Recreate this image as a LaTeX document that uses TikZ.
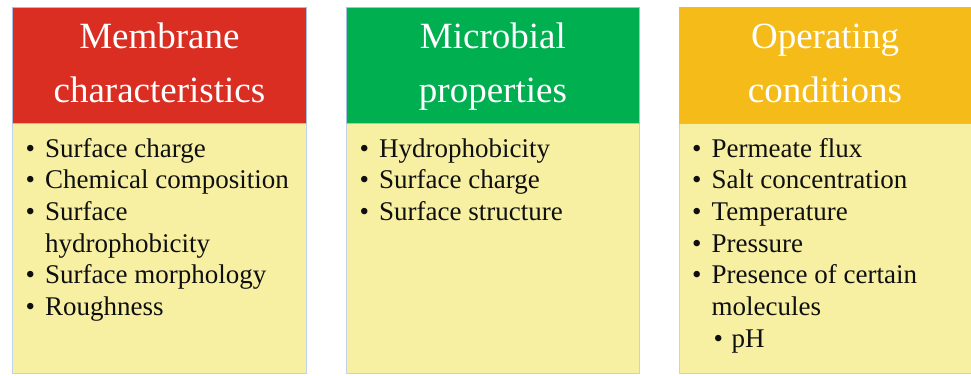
\documentclass[tikz,border=0pt]{standalone}
\usepackage{fontspec}
\setmainfont{Liberation Serif}
\usepackage{array}
\definecolor{hdrred}{RGB}{218,46,34}
\definecolor{hdrgreen}{RGB}{0,175,80}
\definecolor{hdrgold}{RGB}{245,187,24}
\definecolor{bodyyellow}{RGB}{247,240,163}
\definecolor{edgeblue}{RGB}{165,192,225}
\definecolor{ink}{RGB}{15,15,15}
\tikzset{
  hdrbox/.style={draw=edgeblue, line width=0.8pt, anchor=north west, inner sep=0pt, minimum height=116pt},
  bodybox/.style={draw=edgeblue!70, line width=0.8pt, fill=bodyyellow, anchor=north west, inner sep=0pt, minimum height=250pt},
  hdrtext/.style={text=white, align=center, inner sep=0pt, anchor=base, font=\fontsize{37}{54}\selectfont},
  listtext/.style={text=ink, inner sep=0pt, anchor=base west, font=\fontsize{27}{31.7}\selectfont}
}
\begin{document}
\begin{tikzpicture}[x=1pt,y=-1pt]
\useasboundingbox (0,0) rectangle (971,375);
\fill[white] (0,0) rectangle (971,375);
% column 1
\node[bodybox, minimum width=294pt] (b1) at (12,123) {};
\node[hdrbox, fill=hdrred, minimum width=294pt] (h1) at (12,7) {};
\node[hdrtext] (t1) at (h1.north |- 0,102) {Membrane\\characteristics};
\node[listtext] (l1) at (25.5,157) {%
\begin{tabular}[t]{@{}p{19.5pt}@{}l@{}}
•&Surface charge\\
•&Chemical composition\\
•&Surface\\
 &hydrophobicity\\
•&Surface morphology\\
•&Roughness
\end{tabular}};
% column 2
\node[bodybox, minimum width=293pt] (b2) at (346,123) {};
\node[hdrbox, fill=hdrgreen, minimum width=293pt] (h2) at (346,7) {};
\node[hdrtext] (t2) at (h2.north |- 0,102) {Microbial\\properties};
\node[listtext] (l2) at (359.5,157) {%
\begin{tabular}[t]{@{}p{19.5pt}@{}l@{}}
•&Hydrophobicity\\
•&Surface charge\\
•&Surface structure
\end{tabular}};
% column 3
\node[bodybox, minimum width=295pt] (b3) at (679,123) {};
\node[hdrbox, fill=hdrgold, minimum width=292pt] (h3) at (679,7) {};
\node[hdrtext] (t3) at (825,102) {Operating\\conditions};
\node[listtext] (l3) at (692,157) {%
\begin{tabular}[t]{@{}p{19.5pt}@{}l@{}}
•&Permeate flux\\
•&Salt concentration\\
•&Temperature\\
•&Pressure\\
•&Presence of certain\\
 &molecules\\
 &\makebox[20pt][l]{\hspace{2pt}•}pH
\end{tabular}};
\end{tikzpicture}
\end{document}
